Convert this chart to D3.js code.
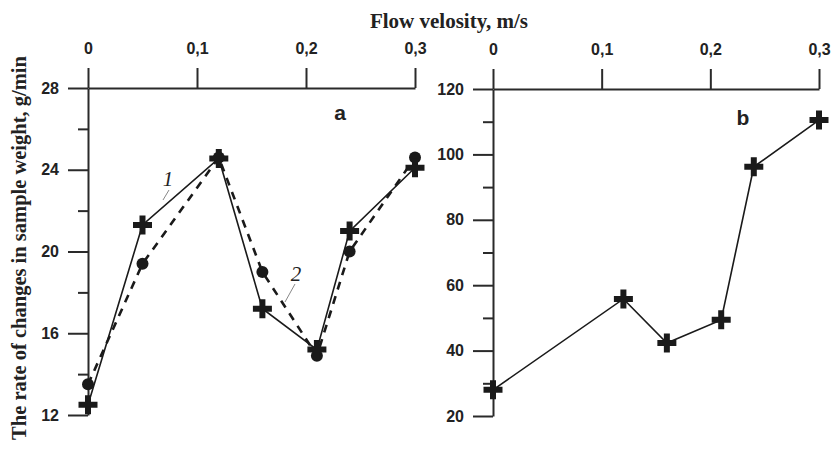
<!DOCTYPE html>
<html>
<head>
<meta charset="utf-8">
<script src="https://cdn.jsdelivr.net/npm/d3@7"></script>
<style>
  body { margin: 0; background: #fff; }
  svg text { fill: #222; }
  .domain, .tick line { stroke: #2a2a2a; stroke-width: 2; }
</style>
</head>
<body>
<svg id="chart" width="832" height="452"></svg>
<script>
// panel a: two series, same velocities
var velA = [0, 0.05, 0.12, 0.16, 0.21, 0.24, 0.3];
var rate1 = [12.5, 21.3, 24.55, 17.2, 15.2, 21.0, 24.1];
var rate2 = [13.5, 19.4, 24.6, 19.0, 14.9, 20.0, 24.6];

// panel b
var velB = [0, 0.12, 0.16, 0.21, 0.24, 0.3];
var rateB = [28, 55.8, 42.3, 49.4, 96.2, 110.5];

var xTicks = [0, 0.1, 0.2, 0.3];
var yTicksA = [12, 16, 20, 24, 28];
var yMinorA = [14, 18, 22, 26];
var yTicksB = [20, 40, 60, 80, 100, 120];
var yMinorB = [30, 50, 70, 90, 110];

var fmt = function(d) { return d === 0 ? "0" : d3.format(".1f")(d).replace(".", ","); };

var svg = d3.select('#chart');

var xA = d3.scaleLinear().domain([0, 0.3]).range([88, 415]);
var yA = d3.scaleLinear().domain([12, 28]).range([415, 88]);
var xB = d3.scaleLinear().domain([0, 0.3]).range([493, 819]);
var yB = d3.scaleLinear().domain([20, 120]).range([416, 89]);

function styleTicks(g) {
	g.selectAll("text")
		.style("font-family", "Liberation Sans, Arial, sans-serif")
		.style("font-weight", "bold").style("font-size", "16px").attr("fill", "#222");
}

function drawAxes(x, y, majors, minors) {
	var top = y.range()[1], left = x.range()[0];
	svg.append("g").attr("transform", "translate(0," + top + ")")
		.call(d3.axisTop(x).tickValues(xTicks).tickFormat(fmt).tickSize(20).tickSizeOuter(0).tickPadding(14))
		.call(styleTicks);
	svg.append("g").attr("transform", "translate(" + left + ",0)")
		.call(d3.axisLeft(y).tickValues(majors).tickSize(20).tickSizeOuter(0).tickPadding(9))
		.call(styleTicks);
	// minor ticks, no labels
	svg.append("g").attr("transform", "translate(" + left + ",0)")
		.call(d3.axisLeft(y).tickValues(minors).tickSize(10).tickFormat("").tickSizeOuter(0))
		.select(".domain").remove();
}

drawAxes(xA, yA, yTicksA, yMinorA);
drawAxes(xB, yB, yTicksB, yMinorB);

function plus(g, data, x, y) {
	g.selectAll(null).data(data).enter().append("path")
		.attr("d", function(d) {
			var cx = x(d[0]), cy = y(d[1]), h = 9.5;
			return "M" + (cx - h) + "," + cy + "H" + (cx + h) + "M" + cx + "," + (cy - h) + "V" + (cy + h);
		})
		.attr("stroke", "#1a1a1a").attr("stroke-width", 6).attr("fill", "none");
}

var lineA = d3.line().x(function(d) { return xA(d[0]); }).y(function(d) { return yA(d[1]); });
var lineB = d3.line().x(function(d) { return xB(d[0]); }).y(function(d) { return yB(d[1]); });

var s1 = d3.zip(velA, rate1), s2 = d3.zip(velA, rate2), sb = d3.zip(velB, rateB);

svg.append("path").attr("d", lineA(s2)).attr("fill", "none")
	.attr("stroke", "#1a1a1a").attr("stroke-width", 2.6).attr("stroke-dasharray", "8,7");
svg.append("path").attr("d", lineA(s1)).attr("fill", "none")
	.attr("stroke", "#1a1a1a").attr("stroke-width", 1.6);
svg.selectAll(null).data(s2).enter().append("circle")
	.attr("cx", function(d) { return xA(d[0]); })
	.attr("cy", function(d) { return yA(d[1]); })
	.attr("r", 6).attr("fill", "#1a1a1a");
plus(svg.append("g"), s1, xA, yA);

svg.append("path").attr("d", lineB(sb)).attr("fill", "none")
	.attr("stroke", "#1a1a1a").attr("stroke-width", 1.6);
plus(svg.append("g"), sb, xB, yB);

// curve labels with leader lines
svg.append("text").attr("x", 168).attr("y", 186).attr("text-anchor", "middle")
	.style("font-family", "Liberation Serif, serif").style("font-style", "italic").style("font-size", "21px").text("1");
svg.append("line").attr("x1", 169).attr("y1", 190).attr("x2", 163).attr("y2", 200)
	.attr("stroke", "#888").attr("stroke-width", 1);
svg.append("text").attr("x", 296).attr("y", 281).attr("text-anchor", "middle")
	.style("font-family", "Liberation Serif, serif").style("font-style", "italic").style("font-size", "21px").text("2");
svg.append("line").attr("x1", 295).attr("y1", 284).attr("x2", 285).attr("y2", 302)
	.attr("stroke", "#888").attr("stroke-width", 1);

// panel letters
svg.append("text").attr("x", 340).attr("y", 120).attr("text-anchor", "middle")
	.style("font-family", "Liberation Sans, Arial, sans-serif").style("font-weight", "bold").style("font-size", "21px").text("a");
svg.append("text").attr("x", 743).attr("y", 125).attr("text-anchor", "middle")
	.style("font-family", "Liberation Sans, Arial, sans-serif").style("font-weight", "bold").style("font-size", "21px").text("b");

// titles
svg.append("text").attr("x", 449).attr("y", 28).attr("text-anchor", "middle")
	.style("font-family", "Liberation Serif, serif").style("font-weight", "bold").style("font-size", "21px")
	.text("Flow velosity, m/s");
svg.append("text").attr("transform", "translate(26,248) rotate(-90)").attr("text-anchor", "middle")
	.style("font-family", "Liberation Serif, serif").style("font-weight", "bold").style("font-size", "20.5px")
	.text("The rate of changes in sample weight, g/min");
</script>
</body>
</html>
